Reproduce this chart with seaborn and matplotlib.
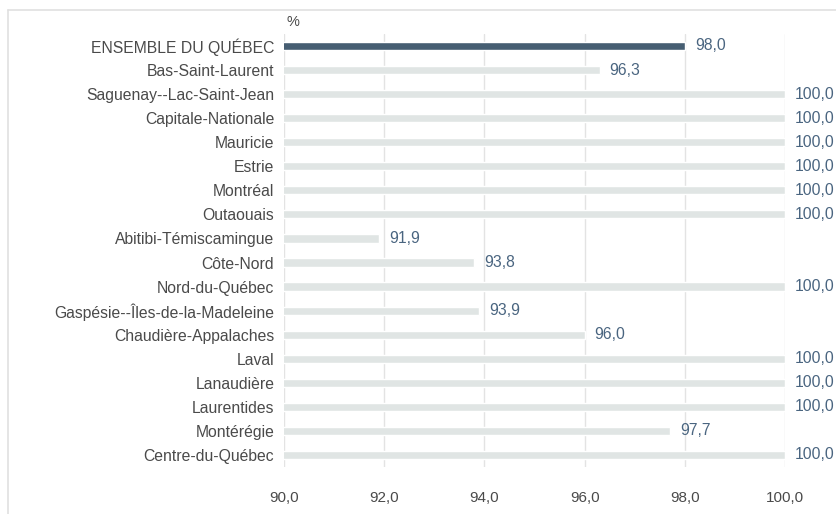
import matplotlib
matplotlib.use("Agg")
import matplotlib.pyplot as plt
import seaborn as sns
import pandas as pd
from matplotlib.lines import Line2D

# --- Data ---
regions = [
    "ENSEMBLE DU QUÉBEC", "Bas-Saint-Laurent", "Saguenay--Lac-Saint-Jean",
    "Capitale-Nationale", "Mauricie", "Estrie", "Montréal", "Outaouais",
    "Abitibi-Témiscamingue", "Côte-Nord", "Nord-du-Québec",
    "Gaspésie--Îles-de-la-Madeleine", "Chaudière-Appalaches", "Laval",
    "Lanaudière", "Laurentides", "Montérégie", "Centre-du-Québec",
]
values = [98.0, 96.3, 100.0, 100.0, 100.0, 100.0, 100.0, 100.0, 91.9,
          93.8, 100.0, 93.9, 96.0, 100.0, 100.0, 100.0, 97.7, 100.0]
x_ticks = [90, 92, 94, 96, 98, 100]

DARK = "#3f5f79"
LIGHT = "#dfe6e5"
LABEL_COL = "#4a6580"
TEXT_COL = "#4a4a4a"
FS = 11.3

sns.set_theme(style="white")
plt.rcParams["font.family"] = ["Liberation Sans", "DejaVu Sans"]

df = pd.DataFrame({"region": regions, "value": values})
colors = [DARK] + [LIGHT] * (len(regions) - 1)

fig = plt.figure(figsize=(8.37, 5.14), dpi=100)
ax = fig.add_axes([0.3393, 0.0914, 0.5986, 0.8426])

sns.barplot(data=df, y="region", x="value", hue="region", palette=colors,
            legend=False, width=0.34, ax=ax, zorder=3)

ax.set_xlim(90, 100)
ax.set_xticks(x_ticks)
ax.set_xticklabels([f"{t:.1f}".replace(".", ",") for t in x_ticks],
                   fontsize=FS - 0.3, color=TEXT_COL)
ax.tick_params(axis="x", length=0, pad=17)
ax.tick_params(axis="y", length=0, pad=7, labelsize=FS, labelcolor=TEXT_COL)
ax.set_xlabel("")
ax.set_ylabel("")
for s in ax.spines.values():
    s.set_visible(False)
ax.grid(axis="x", color="#e3e3e3", linewidth=1, zorder=0)
ax.set_axisbelow(True)

for i, v in enumerate(values):
    ax.text(v + 0.2, i, f"{v:.1f}".replace(".", ","), va="center", ha="left",
            fontsize=FS, color=LABEL_COL, clip_on=False)

ax.text(90.05, -1.0, "%", fontsize=FS - 0.8, color=TEXT_COL, va="center", ha="left")

# outer frame (top and left edges)
frame_col = "#e0e0e0"
fig.add_artist(Line2D([8 / 837, 1], [1 - 10 / 514, 1 - 10 / 514],
                      color=frame_col, linewidth=1.2, transform=fig.transFigure))
fig.add_artist(Line2D([8 / 837, 8 / 837], [0, 1 - 10 / 514],
                      color=frame_col, linewidth=1.2, transform=fig.transFigure))

fig.savefig("out.png", dpi=100)
